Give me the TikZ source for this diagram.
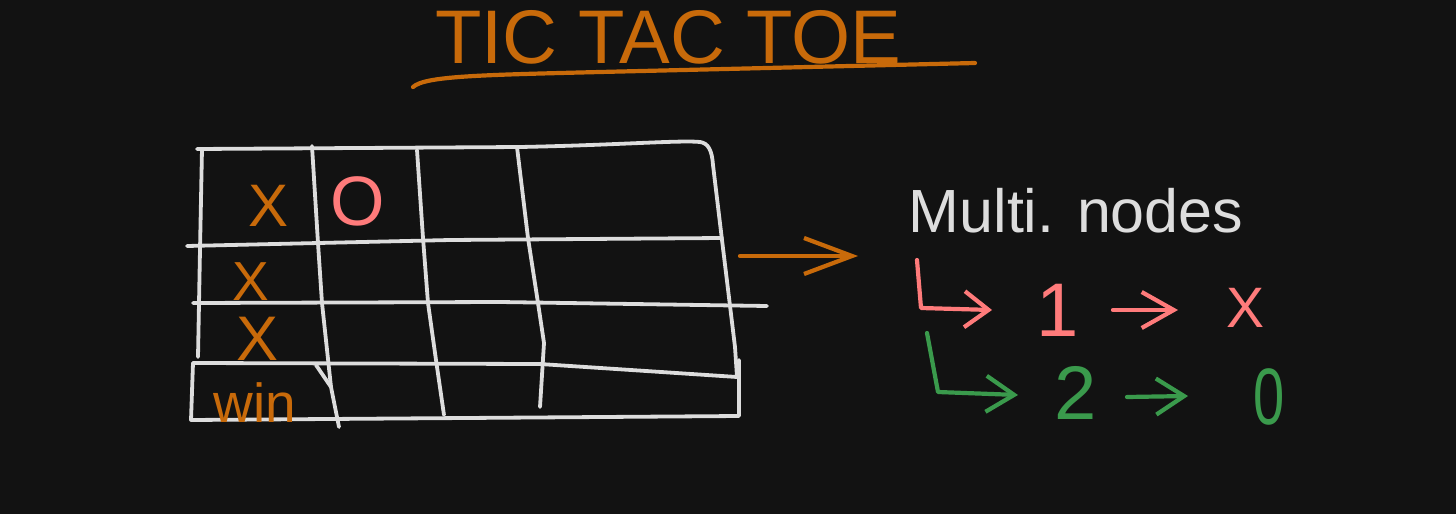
\documentclass[tikz,border=0pt]{standalone}
\usepackage{fontspec}
\setmainfont{Liberation Sans}
\usetikzlibrary{arrows.meta}
\definecolor{bg}{HTML}{121212}
\definecolor{chalk}{HTML}{DDDDDD}
\definecolor{ochre}{HTML}{C86A0A}
\definecolor{pinkred}{HTML}{FF7B7B}
\definecolor{leaf}{HTML}{3A9A4C}
\tikzset{
  hand/.style={inner sep=0pt, font=\fontsize{#1}{#1}\selectfont},
  gridline/.style={draw=chalk, line width=3.8pt},
  pen/.style={line width=4.2pt},
  barb/.style={-{Straight Barb[length=#1pt, width=36pt]}},
}
\begin{document}
\begin{tikzpicture}[x=1pt,y=-1pt, line cap=round, line join=round]
\fill[bg] (0,0) rectangle (1456,514);
\useasboundingbox (0,0) rectangle (1456,514);

% title
\node[hand=76, text=ochre] (title) at (668,37) {TIC TAC TOE};
\draw[ochre, pen] (413,87) .. controls (425,76) and (480,75) .. (600,72) -- (975,63);

% grid
\draw[gridline] (197,149) -- (520,147) .. controls (620,145) and (680,140) .. (700,142)
   .. controls (708,143) and (712,150) .. (713,165) -- (722,240) -- (735,347) -- (737,377);
\draw[gridline] (202,149) -- (200,250) -- (198,357);
\draw[gridline] (187,246) -- (450,240) -- (722,238);
\draw[gridline] (193,303) -- (500,302) -- (767,306);
\draw[gridline] (193,363) -- (540,364) -- (737,377);
\draw[gridline] (193,363) -- (191,420) -- (739,416) -- (739,360);
\draw[gridline] (312,146) -- (318,243) -- (322,303) -- (331,387) -- (339,427);
\draw[gridline] (316,365) -- (331,387);
\draw[gridline] (417,150) -- (423,238) -- (428,303) -- (436,360) -- (444,415);
\draw[gridline] (517,147) -- (528,238) -- (538,303) -- (544,343) -- (540,407);

% marks
\node[hand=60, text=ochre] (x1) at (269,206) {X};
\node[hand=55, text=ochre] (x2) at (251,282) {X};
\node[hand=63, text=ochre] (x3) at (258,339) {X};
\node[hand=70, text=pinkred] (o1) at (358,201) {O};
\node[hand=55, text=ochre, anchor=base] (win) at (255,422) {win};

% arrow to the right
\coordinate (oaS) at (740,256);
\coordinate (oaE) at (858,256);
\draw[ochre, pen, barb=48] (oaS) -- (oaE);

% right side
\node[hand=61, text=chalk, anchor=base] (mn) at (1076,232) {Multi. nodes};

\coordinate (pa) at (917,260);
\coordinate (pb) at (921,308);
\coordinate (pc) at (992,310);
\draw[pinkred, pen, barb=24] (pa) -- (pb) -- (pc);
\node[hand=76, text=pinkred] (one) at (1058,310) {1};
\coordinate (pd) at (1113,310);
\coordinate (pe) at (1178,310);
\draw[pinkred, pen, barb=32] (pd) -- (pe);
\node[hand=57, text=pinkred] (px) at (1245,308) {X};

\coordinate (ga) at (927,333);
\coordinate (gb) at (938,392);
\coordinate (gc) at (1018,395);
\draw[leaf, pen, barb=28] (ga) -- (gb) -- (gc);
\node[hand=76, text=leaf] (two) at (1076,393) {2};
\coordinate (gd) at (1127,397);
\coordinate (ge) at (1188,396);
\draw[leaf, pen, barb=28] (gd) -- (ge);
\node[hand=80, text=leaf, xscale=0.7] (zero) at (1269,397) {0};
\end{tikzpicture}
\end{document}
